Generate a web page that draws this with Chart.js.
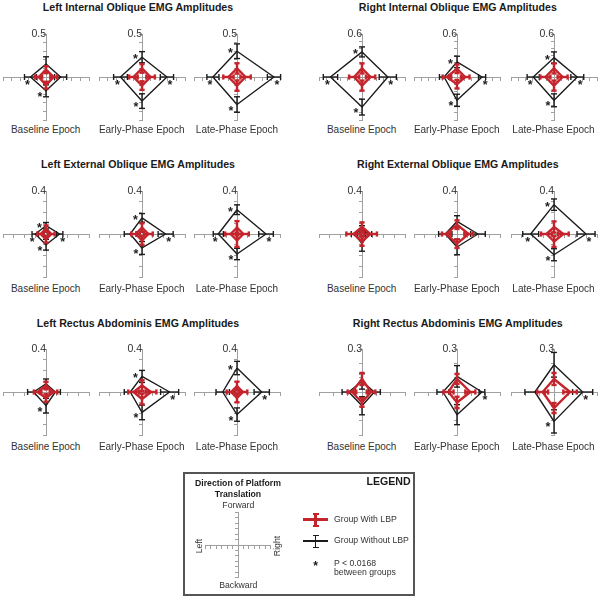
<!DOCTYPE html>
<html>
<head>
<meta charset="utf-8">
<script src="https://cdn.jsdelivr.net/npm/chart.js@4.4.1/dist/chart.umd.min.js"></script>
<style>
  body { margin: 0; background: #fff; font-family: "Liberation Sans", Arial, sans-serif; color: #222; }
  #fig { position: relative; width: 600px; height: 599px; overflow: hidden; }
  canvas { position: absolute; }
  .title { position: absolute; font-weight: bold; font-size: 10.6px; line-height: 12px; white-space: nowrap; transform: translateX(-50%); color: #1a1a1a; }
  .epoch { position: absolute; font-size: 10px; line-height: 12px; white-space: nowrap; transform: translateX(-50%); color: #333; }
  #legend { position: absolute; left: 183px; top: 472px; width: 232px; height: 124px; box-sizing: border-box; border: 2px solid #555; }
  .lt { position: absolute; font-size: 8.7px; line-height: 10px; white-space: nowrap; color: #333; }
  .c { transform: translateX(-50%); }
  .b { font-weight: bold; color: #1a1a1a; }
  .rot { transform: translate(-50%, -50%) rotate(-90deg); }
  .sym { position: absolute; }
</style>
</head>
<body>
<div id="fig"></div>
<script>
// ---- data -------------------------------------------------------------
// every value list is [Forward, Right, Backward, Left]; one row per epoch
const directions = ['Forward', 'Right', 'Backward', 'Left'];
const dirCodes = ['F', 'R', 'B', 'L'];
const epochs = ['Baseline Epoch', 'Early-Phase Epoch', 'Late-Phase Epoch'];
const muscles = ['Left Internal Oblique', 'Right Internal Oblique', 'Left External Oblique',
                 'Right External Oblique', 'Left Rectus Abdominis', 'Right Rectus Abdominis'];
const axisMax = [0.5, 0.6, 0.4, 0.4, 0.4, 0.3];

// Left Internal Oblique
const lioWith = [[0.085, 0.09, 0.095, 0.085], [0.10, 0.10, 0.10, 0.10], [0.10, 0.10, 0.10, 0.10]];
const lioWithErr = [[0.04, 0.04, 0.04, 0.04], [0.05, 0.05, 0.05, 0.05], [0.06, 0.06, 0.06, 0.06]];
const lioWithout = [[0.15, 0.17, 0.16, 0.18], [0.23, 0.29, 0.28, 0.25], [0.30, 0.43, 0.32, 0.28]];
const lioWithoutErr = [[0.085, 0.07, 0.07, 0.07], [0.065, 0.077, 0.085, 0.08], [0.085, 0.077, 0.09, 0.07]];
const lioSig = [['B', 'L'], ['F', 'R', 'B', 'L'], ['F', 'R', 'B', 'L']];

// Right Internal Oblique
const rioWith = [[0.12, 0.12, 0.12, 0.11], [0.115, 0.115, 0.10, 0.14], [0.12, 0.12, 0.12, 0.12]];
const rioWithErr = [[0.07, 0.065, 0.07, 0.07], [0.06, 0.06, 0.06, 0.06], [0.07, 0.07, 0.07, 0.07]];
const rioWithout = [[0.35, 0.36, 0.42, 0.44], [0.21, 0.35, 0.325, 0.18], [0.27, 0.325, 0.325, 0.29]];
const rioWithoutErr = [[0.07, 0.12, 0.11, 0.10], [0.08, 0.05, 0.085, 0.065], [0.08, 0.09, 0.09, 0.085]];
const rioSig = [['F', 'R', 'B', 'L'], ['F', 'R', 'B'], ['F', 'R', 'B', 'L']];

// Left External Oblique
const leoWith = [[0.05, 0.05, 0.05, 0.05], [0.06, 0.06, 0.06, 0.06], [0.06, 0.06, 0.06, 0.06]];
const leoWithErr = [[0.03, 0.03, 0.03, 0.03], [0.04, 0.04, 0.04, 0.04], [0.06, 0.05, 0.06, 0.05]];
const leoWithout = [[0.077, 0.127, 0.10, 0.10], [0.15, 0.22, 0.13, 0.11], [0.226, 0.27, 0.186, 0.174]];
const leoWithoutErr = [[0.03, 0.03, 0.05, 0.03], [0.04, 0.07, 0.06, 0.055], [0.045, 0.068, 0.053, 0.047]];
const leoSig = [['F', 'R', 'B', 'L'], ['F', 'R', 'B'], ['F', 'R', 'B', 'L']];

// Right External Oblique
const reoWith = [[0.065, 0.077, 0.07, 0.078], [0.087, 0.108, 0.09, 0.10], [0.065, 0.087, 0.07, 0.07]];
const reoWithErr = [[0.043, 0.062, 0.04, 0.068], [0.04, 0.04, 0.04, 0.04], [0.052, 0.05, 0.05, 0.05]];
const reoWithout = [[0.047, 0.06, 0.09, 0.07], [0.117, 0.195, 0.121, 0.109], [0.273, 0.298, 0.193, 0.217]];
const reoWithoutErr = [[0.03, 0.03, 0.07, 0.03], [0.053, 0.068, 0.072, 0.062], [0.053, 0.084, 0.056, 0.074]];
const reoSig = [[], [], ['F', 'R', 'B', 'L']];

// Left Rectus Abdominis
const lraWith = [[0.06, 0.07, 0.056, 0.078], [0.06, 0.084, 0.065, 0.078], [0.056, 0.056, 0.056, 0.056]];
const lraWithErr = [[0.035, 0.035, 0.035, 0.035], [0.05, 0.05, 0.05, 0.05], [0.04, 0.04, 0.04, 0.04]];
const lraWithout = [[0.077, 0.087, 0.127, 0.115], [0.145, 0.257, 0.19, 0.109], [0.223, 0.23, 0.21, 0.133]];
const lraWithoutErr = [[0.044, 0.047, 0.068, 0.056], [0.056, 0.084, 0.068, 0.056], [0.062, 0.071, 0.062, 0.062]];
const lraSig = [['B'], ['F', 'R', 'B'], ['F', 'R', 'B']];

// Right Rectus Abdominis
const rraWith = [[0.091, 0.063, 0.073, 0.07], [0.091, 0.093, 0.073, 0.059], [0.091, 0.112, 0.112, 0.079]];
const rraWithErr = [[0.042, 0.03, 0.03, 0.03], [0.035, 0.035, 0.04, 0.035], [0.042, 0.047, 0.035, 0.038]];
const rraWithout = [[0.074, 0.086, 0.096, 0.093], [0.109, 0.174, 0.158, 0.098], [0.19, 0.20, 0.205, 0.133]];
const rraWithoutErr = [[0.054, 0.042, 0.063, 0.046], [0.075, 0.02, 0.07, 0.042], [0.086, 0.07, 0.081, 0.07]];
const rraSig = [[], ['R'], ['R', 'B']];

const withLBP = [lioWith, rioWith, leoWith, reoWith, lraWith, rraWith];
const withLBPErr = [lioWithErr, rioWithErr, leoWithErr, reoWithErr, lraWithErr, rraWithErr];
const withoutLBP = [lioWithout, rioWithout, leoWithout, reoWithout, lraWithout, rraWithout];
const withoutLBPErr = [lioWithoutErr, rioWithoutErr, leoWithoutErr, reoWithoutErr, lraWithoutErr, rraWithoutErr];
const significant = [lioSig, rioSig, leoSig, reoSig, lraSig, rraSig];

// ---- layout -----------------------------------------------------------
const RED = '#c4242c';
const BLACK = '#1b1b1b';
const AXIS = '#a0a0a0';
const FONT = '"Liberation Sans", Arial, sans-serif';
const colX = [45.7, 141.7, 237, 361.7, 456.7, 553.5];
const rowY = [76.7, 234.3, 392.3];
const titleX = [138, 457.8];
const titleTop = [1, 158.3, 317];
const epochTop = [123.8, 282.5, 440.5];
const HALF = 43, PAD = 20;
// asterisk offsets (px) from the vertex of the group without LBP
const starOffset = { F: [-6.5, -1], R: [3, 5], B: [-6, 3], L: [-3, 5] };

const fig = document.getElementById('fig');

function addText(cls, text, left, top) {
  const d = document.createElement('div');
  d.className = cls;
  d.textContent = text;
  d.style.left = left + 'px';
  d.style.top = top + 'px';
  fig.appendChild(d);
  return d;
}

function vertex(dir, v) {
  if (dir === 'F') return { x: 0, y: v };
  if (dir === 'R') return { x: v, y: 0 };
  if (dir === 'B') return { x: 0, y: -v };
  return { x: -v, y: 0 };
}

function groupDatasets(vals, errs, color, width, cap, order) {
  const ring = dirCodes.map((d, i) => vertex(d, vals[i]));
  ring.push(ring[0]);
  const sets = [{
    data: ring, showLine: true, borderColor: color, borderWidth: width,
    borderJoinStyle: 'round', pointRadius: 0, order: order, clip: false
  }];
  dirCodes.forEach((d, i) => {
    sets.push({
      data: [vertex(d, vals[i] - errs[i]), vertex(d, vals[i] + errs[i])],
      showLine: true, borderColor: color, borderWidth: width,
      pointStyle: 'line', pointRadius: cap, pointBorderColor: color,
      pointBorderWidth: width, pointRotation: (d === 'F' || d === 'B') ? 0 : 90,
      order: order, clip: false
    });
  });
  return sets;
}

const sigPlugin = {
  id: 'sigMarks',
  afterDatasetsDraw(chart, args, opts) {
    const { ctx, scales: { x, y } } = chart;
    ctx.save();
    ctx.fillStyle = '#1e1e1e';
    ctx.font = 'bold 12.5px ' + FONT;
    ctx.textAlign = 'center';
    ctx.textBaseline = 'alphabetic';
    (opts.dirs || []).forEach(d => {
      const p = vertex(d, opts.values[dirCodes.indexOf(d)]);
      const px = x.getPixelForValue(p.x) + starOffset[d][0];
      const py = y.getPixelForValue(p.y) + starOffset[d][1];
      ctx.fillText('*', px, py + 7);
    });
    ctx.restore();
  }
};

function axis(max, isY, step, showTop) {
  return {
    type: 'linear', min: -max, max: max,
    position: isY ? { x: 0 } : { y: 0 },
    border: { display: true, color: AXIS, width: 1 },
    grid: { drawOnChartArea: false, drawTicks: true, tickLength: 3, color: AXIS },
    ticks: {
      stepSize: step, autoSkip: false, padding: 1, color: '#333',
      font: { size: 10.5, family: FONT },
      callback: v => (showTop && isY && Math.abs(v - max) < 1e-6) ? max.toFixed(1) : ''
    }
  };
}

function makeCanvas(cx, cy, half, pad) {
  const c = document.createElement('canvas');
  const s = 2 * (half + pad);
  c.width = s; c.height = s;
  c.style.left = (cx - half - pad) + 'px';
  c.style.top = (cy - half - pad) + 'px';
  fig.appendChild(c);
  return c;
}

muscles.forEach((m, mi) => {
  const row = Math.floor(mi / 2), side = mi % 2;
  addText('title', m + ' EMG Amplitudes', titleX[side], titleTop[row]);
  epochs.forEach((ep, ei) => {
    const cx = colX[side * 3 + ei], cy = rowY[row];
    addText('epoch', ep, cx, epochTop[row]);
    const max = axisMax[mi];
    const datasets = groupDatasets(withLBP[mi][ei], withLBPErr[mi][ei], RED, 2.4, 2.6, 0)
      .concat(groupDatasets(withoutLBP[mi][ei], withoutLBPErr[mi][ei], BLACK, 1.4, 3, 1));
    new Chart(makeCanvas(cx, cy, HALF, PAD), {
      type: 'scatter',
      data: { datasets: datasets },
      options: {
        responsive: false, animation: false, events: [],
        layout: { padding: PAD },
        scales: { x: axis(max, false, 0.1, false), y: axis(max, true, 0.1, true) },
        plugins: {
          legend: { display: false }, tooltip: { enabled: false },
          sigMarks: { dirs: significant[mi][ei], values: withoutLBP[mi][ei] }
        }
      },
      plugins: [sigPlugin]
    });
  });
});

// ---- legend box -------------------------------------------------------
const lg = document.createElement('div');
lg.id = 'legend';
fig.appendChild(lg);
addText('lt b c', 'Direction of Platform', 238, 478);
addText('lt b c', 'Translation', 238, 488.5);
const lgTitle = addText('lt b', 'LEGEND', 366.5, 475.3);
lgTitle.style.fontSize = '10.6px';
lgTitle.style.lineHeight = '12px';
addText('lt c', 'Forward', 238.3, 500.3);
addText('lt c', 'Backward', 238.3, 579.7);
addText('lt rot', 'Left', 199.3, 546);
addText('lt rot', 'Right', 277.3, 546);
addText('lt', 'Group With LBP', 334, 514);
addText('lt', 'Group Without LBP', 334, 535.3);
addText('lt', 'P < 0.0168', 334, 558);
addText('lt', 'between groups', 334, 567.3);
const star = addText('lt c b', '*', 315.7, 560);
star.style.fontSize = '12px';
star.style.lineHeight = '12px';

// direction cross (empty chart, axes only)
new Chart(makeCanvas(237.7, 545, 32.5, 12.5), {
  type: 'scatter',
  data: { datasets: [] },
  options: {
    responsive: false, animation: false, events: [],
    layout: { padding: 12.5 },
    scales: { x: axis(6, false, 1, false), y: axis(6, true, 1, false) },
    plugins: { legend: { display: false }, tooltip: { enabled: false } }
  }
});

// legend symbols
function bar(left, top, w, h, color) {
  const d = document.createElement('div');
  d.className = 'sym';
  Object.assign(d.style, { left: left + 'px', top: top + 'px', width: w + 'px', height: h + 'px', background: color });
  fig.appendChild(d);
}
// with LBP
bar(303.3, 518, 25, 2.6, RED);
bar(314.4, 514, 2.6, 12, RED);
bar(312.7, 513, 6, 2.4, RED);
bar(312.7, 524.6, 6, 2.4, RED);
// without LBP
bar(303.3, 540.3, 25, 1.4, BLACK);
bar(315, 535, 1.4, 12.5, BLACK);
bar(312.7, 534.5, 6, 1.4, BLACK);
bar(312.7, 546.8, 6, 1.4, BLACK);
</script>
</body>
</html>
